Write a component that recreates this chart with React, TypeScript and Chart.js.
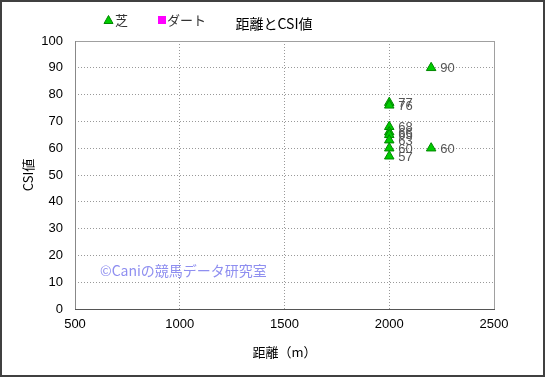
import React, { useEffect, useRef } from 'react';
import { Chart, registerables } from 'chart.js';
Chart.register(...registerables);

const turfDistance = [2000, 2000, 2000, 2000, 2000, 2000, 2000, 2000, 2200, 2200];
const turfCSI = [77, 76, 68, 66, 65, 63, 60, 57, 90, 60];
const dirtDistance: number[] = [];
const dirtCSI: number[] = [];
const seriesNames = ['芝', 'ダート'];
const chartTitle = '距離とCSI値';
const xTitle = '距離（m）';
const yTitle = 'CSI値';
const watermark = '©Caniの競馬データ研究室';

const FONT = "'Liberation Sans', 'Noto Sans CJK JP', sans-serif";
const JFONT = "'Noto Sans CJK JP', 'Liberation Sans', sans-serif";

const decorPlugin = {
  id: 'decor',
  beforeDraw(chart: any) {
    const { ctx } = chart;
    ctx.save();
    ctx.fillStyle = '#ffffff';
    ctx.fillRect(0, 0, chart.width, chart.height);
    ctx.restore();
  },
  beforeDatasetsDraw(chart: any) {
    const { ctx, chartArea: a } = chart;
    ctx.save();
    ctx.strokeStyle = '#a0a0a0';
    ctx.lineWidth = 1;
    ctx.strokeRect(Math.round(a.left) + 0.5, Math.round(a.top) + 0.5, Math.round(a.right - a.left), Math.round(a.bottom - a.top));
    ctx.strokeStyle = '#555555';
    ctx.beginPath();
    ctx.moveTo(a.left, Math.round(a.bottom) + 0.5);
    ctx.lineTo(a.right + 1, Math.round(a.bottom) + 0.5);
    ctx.stroke();
    ctx.strokeStyle = '#888888';
    ctx.beginPath();
    ctx.moveTo(Math.round(a.left) + 0.5, a.top);
    ctx.lineTo(Math.round(a.left) + 0.5, a.bottom);
    ctx.stroke();
    // watermark
    ctx.fillStyle = '#8f8ff0';
    ctx.font = `14px ${JFONT}`;
    ctx.textBaseline = 'middle';
    ctx.textAlign = 'left';
    ctx.fillText(watermark, 100, 271);
    ctx.restore();
  },
  afterDatasetsDraw(chart: any) {
    const { ctx } = chart;
    ctx.save();
    ctx.fillStyle = '#555555';
    ctx.font = `13px ${FONT}`;
    ctx.textBaseline = 'middle';
    ctx.textAlign = 'left';
    chart.data.datasets.forEach((ds: any, i: number) => {
      const meta = chart.getDatasetMeta(i);
      meta.data.forEach((pt: any, j: number) => {
        const v = ds.data[j];
        ctx.fillText(String(v.y), pt.x + 9, pt.y + 1);
      });
    });
    ctx.restore();
  },
  afterDraw(chart: any) {
    const { ctx } = chart;
    ctx.save();
    const ds = chart.data.datasets;
    ctx.font = `13px ${JFONT}`;
    ctx.textBaseline = 'middle';
    ctx.textAlign = 'left';
    ctx.fillStyle = ds[0].backgroundColor;
    ctx.strokeStyle = ds[0].borderColor;
    ctx.beginPath();
    ctx.moveTo(108.5, 15.5);
    ctx.lineTo(113, 23.5);
    ctx.lineTo(104, 23.5);
    ctx.closePath();
    ctx.fill();
    ctx.stroke();
    ctx.fillStyle = '#333333';
    ctx.fillText(ds[0].label, 115, 20);
    ctx.fillStyle = ds[1].backgroundColor;
    ctx.fillRect(158, 16, 8, 8);
    ctx.fillStyle = '#333333';
    ctx.fillText(ds[1].label, 167, 20);
    ctx.fillStyle = '#000000';
    ctx.font = `14px ${JFONT}`;
    ctx.textAlign = 'center';
    ctx.fillText(chartTitle, 274, 24);
    ctx.strokeStyle = '#404040';
    ctx.lineWidth = 2;
    ctx.strokeRect(1, 1, chart.width - 2, chart.height - 2);
    ctx.restore();
  },
};

export default function App() {
  const ref = useRef<HTMLCanvasElement>(null);
  useEffect(() => {
    document.body.style.margin = '0';
    const chart = new Chart(ref.current!, {
      type: 'scatter',
      data: {
        datasets: [
          {
            label: seriesNames[0],
            data: turfDistance.map((x, i) => ({ x, y: turfCSI[i] })),
            pointStyle: 'triangle',
            pointRadius: 5.5,
            backgroundColor: '#00cc00',
            borderColor: '#008800',
            borderWidth: 1,
          },
          {
            label: seriesNames[1],
            data: dirtDistance.map((x, i) => ({ x, y: dirtCSI[i] })),
            pointStyle: 'rect',
            pointRadius: 5,
            backgroundColor: '#ff00ff',
            borderColor: '#ff00ff',
          },
        ],
      },
      options: {
        responsive: false,
        animation: false,
        layout: { padding: { top: 41, right: 51, left: 0, bottom: 0 } },
        plugins: { legend: { display: false }, title: { display: false }, tooltip: { enabled: false } },
        scales: {
          x: {
            type: 'linear',
            min: 500,
            max: 2500,
            afterFit: (s: any) => { s.height = 68; },
            ticks: { stepSize: 500, color: '#000', font: { size: 13, family: FONT }, padding: 8, maxRotation: 0, callback: (v: any) => String(v) },
            grid: { color: '#999999', drawTicks: false, lineWidth: 1 },
            border: { display: false, dash: [1, 2] },
            title: { display: true, text: xTitle, color: '#000', font: { size: 13, family: JFONT }, padding: { top: 0, bottom: 17 } },
          },
          y: {
            min: 0,
            max: 100,
            afterFit: (s: any) => { s.width = 75; },
            ticks: { stepSize: 10, color: '#000', font: { size: 13, family: FONT }, padding: 12, callback: (v: any) => String(v) },
            grid: { color: '#999999', drawTicks: false, lineWidth: 1 },
            border: { display: false, dash: [1, 2] },
            title: { display: true, text: yTitle, color: '#000', font: { size: 13, family: JFONT }, padding: { top: 20, bottom: 0 } },
          },
        },
      },
      plugins: [decorPlugin],
    });
    return () => chart.destroy();
  }, []);
  return <canvas ref={ref} width={545} height={377} style={{ display: 'block' }} />;
}
